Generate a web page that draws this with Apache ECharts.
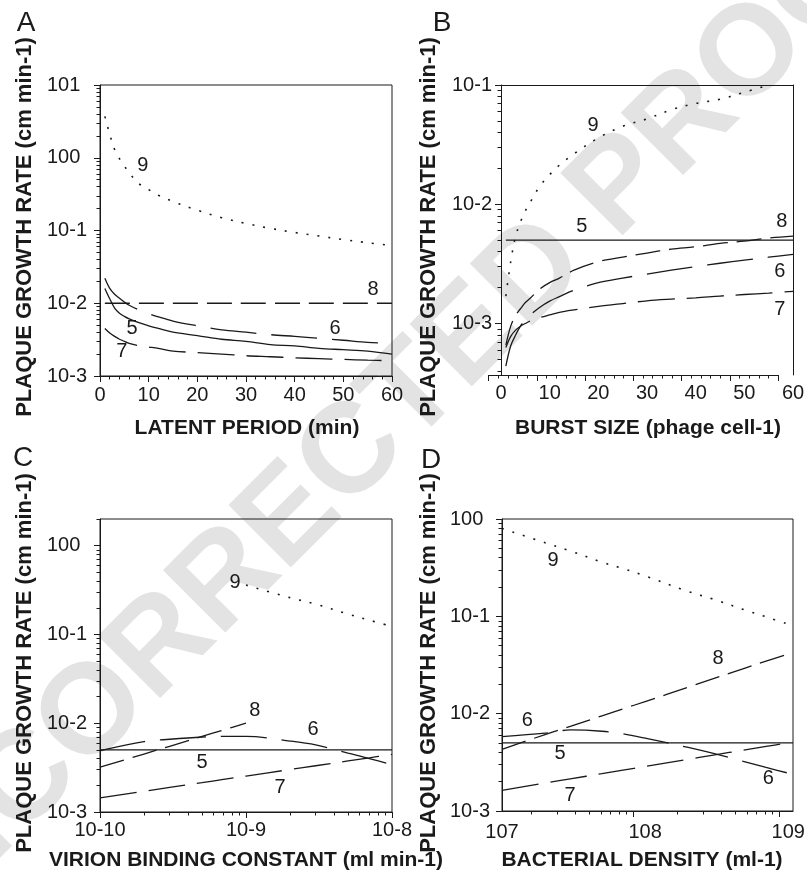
<!DOCTYPE html>
<html>
<head>
<meta charset="utf-8">
<title>Plaque growth rate</title>
<script src="https://cdn.jsdelivr.net/npm/echarts@6/dist/echarts.min.js"></script>
<style>
  html, body { margin: 0; padding: 0; background: #fff; }
  #chart { width: 807px; height: 876px; }
</style>
</head>
<body>
<div id="chart"></div>
<script type="text/javascript">
// ---- values (curves 5..9 in every panel) ----

// A: latent period (min)
var latentX  = [1, 2, 3, 4, 5, 6, 8, 10, 12, 15, 20, 25, 30, 35, 40, 45, 50, 55, 60];
var latent5  = [0.016, 0.0115, 0.0086, 0.0073, 0.0066, 0.0061, 0.0054, 0.0049, 0.0045, 0.0040, 0.0036, 0.0032, 0.0030, 0.0027, 0.0026, 0.0024, 0.0023, 0.0022, 0.0020];
var latent6  = [0.022, 0.016, 0.0133, 0.0117, 0.0104, 0.0094, 0.0081, 0.0072, 0.0065, 0.0057, 0.0049, 0.0043, 0.0040, 0.0037, 0.0035, 0.0033, 0.0031, 0.0029, 0.0028];
var latent7  = [0.0045, 0.0039, 0.0035, 0.0032, 0.0030, 0.0028, 0.0026, 0.0025, 0.0024, 0.0022, 0.0021, 0.0020, 0.0019, 0.00184, 0.00178, 0.00173, 0.00169, 0.00165, 0.00162];
var latent8  = [0.01, 0.01, 0.01, 0.01, 0.01, 0.01, 0.01, 0.01, 0.01, 0.01, 0.01, 0.01, 0.01, 0.01, 0.01, 0.01, 0.01, 0.01, 0.01];
var latent9  = [3.7, 2.1, 1.3, 0.97, 0.77, 0.62, 0.44, 0.365, 0.305, 0.25, 0.19, 0.15, 0.125, 0.107, 0.094, 0.084, 0.075, 0.068, 0.062];

// B: burst size (phage cell-1)
var burstX   = [1, 2, 3, 4, 5, 6, 8, 10, 12, 15, 20, 25, 30, 35, 40, 45, 50, 55, 60];
var burst5   = [0.005, 0.005, 0.005, 0.005, 0.005, 0.005, 0.005, 0.005, 0.005, 0.005, 0.005, 0.005, 0.005, 0.005, 0.005, 0.005, 0.005, 0.005, 0.005];
var burst6   = [0.00044, 0.00065, 0.0008, 0.00095, 0.00107, 0.00118, 0.00137, 0.00154, 0.00168, 0.0019, 0.0022, 0.0024, 0.0026, 0.0028, 0.0030, 0.0032, 0.0034, 0.0036, 0.0038];
var burst7   = [0.00063, 0.00078, 0.00088, 0.00095, 0.0010, 0.00105, 0.00112, 0.00118, 0.00124, 0.0013, 0.00139, 0.00147, 0.00155, 0.0016, 0.00164, 0.0017, 0.00175, 0.0018, 0.00186];
var burst8   = [0.00066, 0.00095, 0.00117, 0.00133, 0.0015, 0.00163, 0.00195, 0.0022, 0.0024, 0.0028, 0.0033, 0.0036, 0.0039, 0.0042, 0.0044, 0.0047, 0.0049, 0.0052, 0.0054];
var burst9   = [0.0017, 0.0033, 0.0054, 0.0071, 0.0088, 0.0104, 0.0142, 0.0177, 0.0213, 0.0265, 0.036, 0.045, 0.052, 0.062, 0.070, 0.076, 0.087, 0.1, null];

// C: virion binding constant (ml min-1)
var bindX    = [1e-10, 2e-10, 3e-10, 5e-10, 7e-10, 1e-9, 2e-9, 3e-9, 5e-9, 7e-9, 1e-8];
var bind5    = [0.005, 0.005, 0.005, 0.005, 0.005, 0.005, 0.005, 0.005, 0.005, 0.005, 0.005];
var bind6    = [0.0049, 0.0062, 0.0066, 0.0070, 0.0071, 0.0071, 0.0063, 0.0057, 0.0046, 0.0040, 0.0034];
var bind7    = [0.00144, 0.00171, 0.00189, 0.00214, 0.00233, 0.00254, 0.00301, 0.00332, 0.00376, 0.00408, 0.00446];
var bind8    = [0.0032, 0.0045, 0.0055, 0.0071, 0.0084, 0.010, null, null, null, null, null];
var bind9    = [null, null, null, null, null, 0.36, 0.26, 0.22, 0.17, 0.145, 0.123];

// D: bacterial density (ml-1)
var densX    = [1e7, 2e7, 3e7, 5e7, 7e7, 1e8, 2e8, 3e8, 5e8, 7e8, 1e9, 1.08e9];
var dens5    = [0.005, 0.005, 0.005, 0.005, 0.005, 0.005, 0.005, 0.005, 0.005, 0.005, 0.005, 0.005];
var dens6    = [0.0058, 0.0063, 0.0068, 0.0066, 0.0062, 0.0056, 0.0045, 0.0039, 0.0032, 0.0028, 0.00245, 0.00237];
var dens7    = [0.00163, 0.00194, 0.00214, 0.00242, 0.00263, 0.00287, 0.0034, 0.00375, 0.00425, 0.00461, 0.0050, null];
var dens8    = [0.0043, 0.0061, 0.0074, 0.0095, 0.0112, 0.0133, 0.0187, 0.0229, 0.0294, 0.0347, 0.041, null];
var dens9    = [0.80, 0.57, 0.47, 0.36, 0.31, 0.26, 0.18, 0.15, 0.116, 0.099, 0.083, null];

// curve number labels: [x, y, number]
var labelsA = [[8.8, 0.79, 9], [56.1, 0.0157, 8], [48.3, 0.00457, 6], [6.6, 0.00457, 5], [4.5, 0.00214, 7]];
var labelsB = [[18.9, 0.0462, 9], [16.6, 0.00648, 5], [57.7, 0.00715, 8], [57.3, 0.00272, 6], [57.3, 0.00131, 7]];
var labelsC = [[8.4e-10, 0.382, 9], [1.15e-9, 0.0141, 8], [2.88e-9, 0.0086, 6], [5.0e-10, 0.00365, 5], [1.71e-9, 0.0019, 7]];
var labelsD = [[2.27e7, 0.378, 9], [3.24e8, 0.0369, 8], [1.5e7, 0.00847, 6], [2.55e7, 0.00387, 5], [7.25e8, 0.00214, 6], [2.99e7, 0.00143, 7]];

// tick values
var latentYTick = [0.001, 0.01, 0.1, 1, 10];
var burstYTick  = [0.001, 0.01, 0.1];
var bindYTick   = [0.001, 0.01, 0.1, 1];
var bindXTick   = [1e-10, 1e-9, 1e-8];
var densYTick   = [0.001, 0.01, 0.1, 1];
var densXTick   = [1e7, 1e8, 1e9];
var densXMajor  = [1e8, 1e9];

var FONT = '"Liberation Sans", Arial, Helvetica, sans-serif';
var INK = '#1a1a1a';

function pairs(xs, ys) {
  var out = [];
  for (var i = 0; i < xs.length; i++) {
    if (ys[i] != null) out.push([xs[i], ys[i]]);
  }
  return out;
}

// minor ticks 2..9 within each decade
function logMinors(lo, hi) {
  var out = [];
  for (var e = Math.floor(Math.log10(lo)) - 1; e <= Math.ceil(Math.log10(hi)); e++) {
    for (var m = 2; m <= 9; m++) {
      var v = +(m * Math.pow(10, e)).toPrecision(6);
      if (v >= lo && v <= hi) out.push(v);
    }
  }
  return out;
}

function pow10Label(v) {
  return '10' + Math.round(Math.log10(v));
}

function bareAxis(type, grid, min, max, pos) {
  var a = {
    type: type, gridIndex: grid, min: min, max: max, position: pos,
    splitLine: { show: false },
    minorSplitLine: { show: false },
    axisLine: { show: false, onZero: false, lineStyle: { color: INK, width: 1 } },
    axisTick: { show: false },
    minorTick: { show: false },
    axisLabel: { show: false },
    axisPointer: { show: false },
    silent: true
  };
  if (type === 'log') a.logBase = 10;
  return a;
}

function tickStyle(len, vals) {
  var t = { show: true, inside: false, length: len, lineStyle: { color: INK, width: 1 } };
  if (vals) t.customValues = vals;
  return t;
}

function labelStyle(vals, fmt, margin, align) {
  var l = { show: true, margin: margin, fontSize: 20, fontFamily: FONT, color: INK, formatter: fmt };
  if (vals) l.customValues = vals;
  if (align) l.align = align;
  return l;
}

// ---------- axes ----------
var xAxes = [];
var yAxes = [];

// A  (grid 0)
var ax = bareAxis('value', 0, 0, 60, 'bottom');
ax.interval = 10;
ax.axisLine.show = true;
ax.axisTick = tickStyle(6);
ax.minorTick = { show: true, splitNumber: 5, length: 3.5, lineStyle: { color: INK, width: 1 } };
ax.axisLabel = labelStyle(null, function (v) { return String(v); }, 9);
xAxes.push(ax);                                   // x0
var ay = bareAxis('log', 0, 0.001, 10, 'left');
ay.axisLine.show = true;
ay.axisTick = tickStyle(6, latentYTick);
ay.axisLabel = labelStyle(latentYTick, pow10Label, 53, 'left');
yAxes.push(ay);                                   // y0
var aym = bareAxis('log', 0, 0.001, 10, 'left');
aym.axisTick = tickStyle(3.5, logMinors(0.001, 10));
yAxes.push(aym);                                  // y1

// B  (grid 1 plot, grid 2 shifted tick strip)
var bx = bareAxis('value', 1, 0, 60, 'bottom');
bx.interval = 10;
bx.axisLabel = labelStyle(null, function (v) { return String(v); }, 8);
xAxes.push(bx);                                   // x1
var bxTop = bareAxis('value', 1, 0, 60, 'top');
bxTop.axisLine.show = true;
xAxes.push(bxTop);                                // x2
var bxt = bareAxis('value', 2, 0, 60, 'bottom');
bxt.interval = 10;
bxt.axisLine.show = true;
bxt.axisTick = tickStyle(6);
bxt.minorTick = { show: true, splitNumber: 5, length: 3.5, lineStyle: { color: INK, width: 1 } };
xAxes.push(bxt);                                  // x3
var by = bareAxis('log', 1, 0.00037, 0.1, 'left');
by.axisLine.show = true;
by.axisTick = tickStyle(6, burstYTick);
by.axisLabel = labelStyle(burstYTick, pow10Label, 49, 'left');
yAxes.push(by);                                   // y2
var bym = bareAxis('log', 1, 0.00037, 0.1, 'left');
bym.axisTick = tickStyle(3.5, logMinors(0.00037, 0.1));
yAxes.push(bym);                                  // y3
var byRight = bareAxis('log', 1, 0.00037, 0.1, 'right');
byRight.axisLine.show = true;
yAxes.push(byRight);                              // y4
var byStrip = bareAxis('value', 2, 0, 1, 'left');
byStrip.show = false;
yAxes.push(byStrip);                              // y5

// C  (grid 3)
var cx = bareAxis('log', 3, 1e-10, 1e-8, 'bottom');
cx.axisLine.show = true;
cx.axisTick = tickStyle(6, bindXTick);
cx.axisLabel = labelStyle(bindXTick, pow10Label, 8);
xAxes.push(cx);                                   // x4
var cxm = bareAxis('log', 3, 1e-10, 1e-8, 'bottom');
cxm.axisTick = tickStyle(3.5, logMinors(1e-10, 1e-8));
xAxes.push(cxm);                                  // x5
var cy = bareAxis('log', 3, 0.001, 2, 'left');
cy.axisLine.show = true;
cy.axisTick = tickStyle(6, bindYTick);
cy.axisLabel = labelStyle(bindYTick, pow10Label, 53, 'left');
yAxes.push(cy);                                   // y6
var cym = bareAxis('log', 3, 0.001, 2, 'left');
cym.axisTick = tickStyle(3.5, logMinors(0.001, 2));
yAxes.push(cym);                                  // y7

// D  (grid 4) - tick strip of the original sits slightly off its labels
var dx = bareAxis('log', 4, 1e7, 1.08e9, 'bottom');
dx.axisLabel = labelStyle(densXTick, pow10Label, 11);
xAxes.push(dx);                                   // x6
var dxt = bareAxis('log', 4, 1.262e7, 1.241e9, 'bottom');
dxt.axisLine.show = true;
dxt.axisTick = tickStyle(6, densXMajor);
xAxes.push(dxt);                                  // x7
var dxm = bareAxis('log', 4, 1.262e7, 1.241e9, 'bottom');
dxm.axisTick = tickStyle(3.5, logMinors(1.262e7, 1.241e9));
xAxes.push(dxm);                                  // x8
var dy = bareAxis('log', 4, 0.001, 1, 'left');
dy.axisLine.show = true;
dy.axisTick = tickStyle(6, densYTick);
dy.axisLabel = labelStyle(densYTick, pow10Label, 52, 'left');
yAxes.push(dy);                                   // y8
var dym = bareAxis('log', 4, 0.001, 1, 'left');
dym.axisTick = tickStyle(3.5, logMinors(0.001, 1));
yAxes.push(dym);                                  // y9

// ---------- series ----------
var DASH6 = [46, 15];
var DASH7 = [37, 12];
var DASH8 = [25, 9];
var DOTS = [2, 9];

function curve(xs, ys, xi, yi, dash, width) {
  return {
    type: 'line', xAxisIndex: xi, yAxisIndex: yi,
    data: pairs(xs, ys),
    symbol: 'none', showSymbol: false, smooth: 0.35,
    lineStyle: { color: INK, width: width || 1.3, type: dash },
    silent: true, z: 3, animation: false
  };
}

function numbers(list, xi, yi) {
  return {
    type: 'scatter', xAxisIndex: xi, yAxisIndex: yi,
    data: list, symbolSize: 0,
    itemStyle: { color: INK, opacity: 1 },
    label: {
      show: true, position: 'inside', fontSize: 20, fontFamily: FONT,
      color: INK, opacity: 1, textBorderWidth: 0, textShadowBlur: 0,
      formatter: function (p) { return String(p.value[2]); }
    },
    emphasis: { disabled: true },
    silent: true, z: 4, animation: false
  };
}

var series = [
  curve(latentX, latent5, 0, 0, 'solid'),
  curve(latentX, latent6, 0, 0, DASH6),
  curve(latentX, latent7, 0, 0, DASH7),
  curve(latentX, latent8, 0, 0, DASH8),
  curve(latentX, latent9, 0, 0, DOTS, 1.6),
  numbers(labelsA, 0, 0),

  curve(burstX, burst5, 1, 2, 'solid'),
  curve(burstX, burst6, 1, 2, DASH6),
  curve(burstX, burst7, 1, 2, DASH7),
  curve(burstX, burst8, 1, 2, DASH8),
  curve(burstX, burst9, 1, 2, DOTS, 1.6),
  numbers(labelsB, 1, 2),

  curve(bindX, bind5, 4, 6, 'solid'),
  curve(bindX, bind6, 4, 6, DASH6),
  curve(bindX, bind7, 4, 6, DASH7),
  curve(bindX, bind8, 4, 6, DASH8),
  curve(bindX, bind9, 4, 6, DOTS, 1.6),
  numbers(labelsC, 4, 6),

  curve(densX, dens5, 6, 8, 'solid'),
  curve(densX, dens6, 6, 8, DASH6),
  curve(densX, dens7, 6, 8, DASH7),
  curve(densX, dens8, 6, 8, DASH8),
  curve(densX, dens9, 6, 8, DOTS, 1.6),
  numbers(labelsD, 6, 8)
];

// ---------- texts ----------
function txt(str, x, y, font, rot, fill) {
  return {
    type: 'text', x: x, y: y, rotation: rot || 0, silent: true, z: 10,
    style: {
      text: str, font: font, fill: fill || INK,
      textAlign: 'center', textVerticalAlign: 'middle',
      align: 'center', verticalAlign: 'middle'
    }
  };
}
var TITLE_Y = 'bold 22px ' + FONT;
var TITLE_X = 'bold 21px ' + FONT;
var LETTER = '28px ' + FONT;
var yTitle = 'PLAQUE GROWTH RATE (cm min-1)';

var watermark = txt('UNCORRECTED PROOF', 388, 420, 'bold 128px ' + FONT, Math.PI / 4, '#e3e3e3');
watermark.z = -10;

var graphics = [
  watermark,
  txt('A', 26, 23, LETTER), txt('B', 442, 23, LETTER),
  txt('C', 23, 458, LETTER), txt('D', 431, 460, LETTER),
  txt(yTitle, 25, 227, TITLE_Y, Math.PI / 2), txt(yTitle, 429, 227, TITLE_Y, Math.PI / 2),
  txt(yTitle, 25, 663, TITLE_Y, Math.PI / 2), txt(yTitle, 429, 663, TITLE_Y, Math.PI / 2),
  txt('LATENT PERIOD (min)', 247, 428, TITLE_X),
  txt('BURST SIZE (phage cell-1)', 648, 428, TITLE_X),
  txt('VIRION BINDING CONSTANT (ml min-1)', 246, 860, TITLE_X),
  txt('BACTERIAL DENSITY (ml-1)', 642, 860, TITLE_X)
];

function gridAt(left, top, width, height, box) {
  var g = { left: left, top: top, width: width, height: height, containLabel: false, outerBoundsMode: 'none' };
  if (box) { g.show = true; g.borderColor = INK; g.borderWidth = 1; g.backgroundColor = 'transparent'; }
  return g;
}

var myChart = echarts.init(document.getElementById('chart'), null, { renderer: 'canvas' });
var option = {
  backgroundColor: '#ffffff',
  animation: false,
  grid: [
    gridAt(100, 85, 292, 291, true),
    gridAt(501, 85, 292, 290, false),
    gridAt(488.5, 85, 289.8, 290, false),
    gridAt(100, 519, 292, 293, true),
    gridAt(502, 519, 291, 292, true)
  ],
  xAxis: xAxes,
  yAxis: yAxes,
  series: series,
  graphic: graphics
};
myChart.setOption(option);
</script>
</body>
</html>
